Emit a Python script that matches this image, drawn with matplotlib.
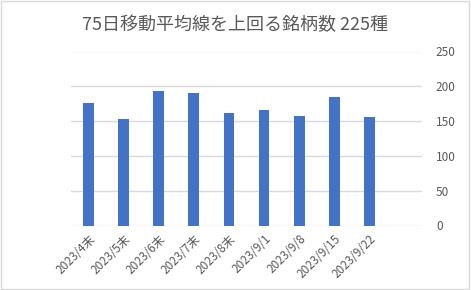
import matplotlib
matplotlib.use("Agg")
import matplotlib.pyplot as plt
from matplotlib.patches import Rectangle

plt.rcParams['font.family'] = ['Noto Sans CJK JP', 'DejaVu Sans']

labels = ["2023/4末", "2023/5末", "2023/6末", "2023/7末", "2023/8末",
          "2023/9/1", "2023/9/8", "2023/9/15", "2023/9/22"]
counts = [176, 153, 193, 190, 162, 166, 157, 184, 156]
yticks = [0, 50, 100, 150, 200, 250]
title = "75日移動平均線を上回る銘柄数 225種"

fig = plt.figure(figsize=(4.71, 2.9), dpi=100)
ax = fig.add_axes([71 / 471, 1 - 225.5 / 290, (422 - 71) / 471, 174 / 290])

x = list(range(len(labels)))
ax.bar(x, counts, width=0.31, color="#4472C4", zorder=3)

ax.set_xlim(-0.5, 9.5)
ax.set_ylim(0, 250)
ax.set_yticks(yticks)
ax.yaxis.tick_right()
ax.tick_params(axis="y", length=0, pad=10, labelsize=8.5, labelcolor="#595959")
ax.set_xticks(x)
ax.set_xticklabels(labels, rotation=45, ha="right", rotation_mode="anchor")
ax.tick_params(axis="x", length=0, pad=5, labelsize=8.5, labelcolor="#595959")
ax.grid(axis="y", color="#D9D9D9", linewidth=1, zorder=0)
for s in ax.spines.values():
    s.set_visible(False)

fig.text(235 / 471, 1 - 25 / 290, title, ha="center", va="center",
         fontsize=13, color="#595959")

fig.patches.append(Rectangle((0.002, 0.004), 0.994, 0.992, transform=fig.transFigure,
                             fill=False, edgecolor="#D9D9D9", linewidth=1))

fig.savefig("out.png", dpi=100)
